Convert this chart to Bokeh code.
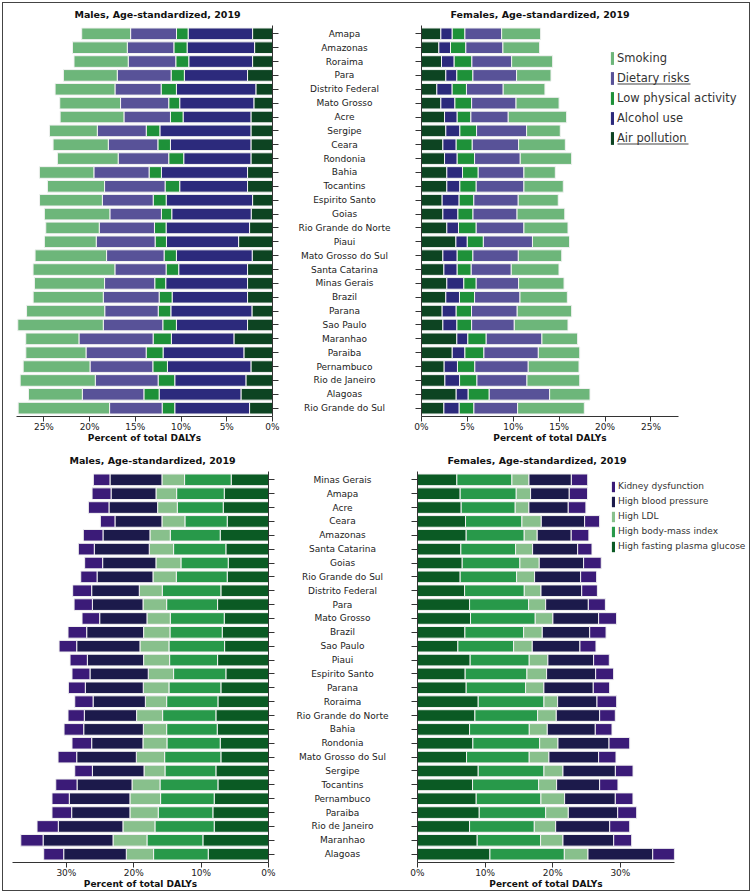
from bokeh.plotting import figure
from bokeh.models import (ColumnDataSource, FactorRange, Range1d, Legend, LegendItem,
                          SingleIntervalTicker, PrintfTickFormatter, BoxAnnotation,
                          CustomLabelingPolicy)
from bokeh.layouts import row, column
from bokeh.embed import file_html
from bokeh.resources import INLINE
from bokeh.core.properties import value

FONT = "DejaVu Sans"

# ---------------- data: top (behavioural / environmental risks) ----------------
states_top = ["Amapa", "Amazonas", "Roraima", "Para", "Distrito Federal", "Mato Grosso", "Acre",
              "Sergipe", "Ceara", "Rondonia", "Bahia", "Tocantins", "Espirito Santo", "Goias",
              "Rio Grande do Norte", "Piaui", "Mato Grosso do Sul", "Santa Catarina", "Minas Gerais",
              "Brazil", "Parana", "Sao Paulo", "Maranhao", "Paraiba", "Pernambuco", "Rio de Janeiro",
              "Alagoas", "Rio Grande do Sul"]
top_risks = ["Air pollution", "Alcohol use", "Low physical activity", "Dietary risks", "Smoking"]

m_air = [2.18, 1.96, 2.18, 2.73, 1.82, 2.04, 2.36, 2.36, 2.36, 2.36, 2.73, 2.73, 2.18, 2.33,
         2.51, 3.71, 2.22, 2.73, 2.73, 2.73, 2.25, 2.73, 4.22, 3.13, 2.36, 2.91, 3.45, 2.51]
m_alc = [7.05, 7.38, 6.98, 6.91, 8.69, 8.11, 7.42, 9.96, 8.80, 7.35, 9.42, 7.42, 9.45, 8.69,
         9.13, 7.89, 8.29, 7.53, 8.95, 8.25, 8.87, 7.78, 6.84, 8.84, 9.13, 7.78, 8.95, 8.18]
m_lpa = [1.27, 1.45, 1.42, 1.45, 1.67, 1.20, 1.38, 1.49, 1.38, 1.64, 1.35, 1.60, 1.42, 1.13,
         1.27, 1.24, 1.35, 1.38, 1.20, 1.42, 1.38, 1.49, 2.00, 1.85, 1.60, 1.82, 1.67, 1.38]
m_diet = [5.02, 5.09, 5.20, 5.89, 5.05, 5.27, 5.09, 5.35, 5.42, 5.53, 6.04, 6.62, 5.56, 5.64,
          6.04, 6.44, 6.29, 5.60, 5.49, 6.11, 5.85, 6.51, 8.11, 6.58, 6.87, 6.87, 6.73, 5.75]
m_smk = [5.35, 6.00, 5.93, 5.89, 6.55, 6.65, 6.98, 5.24, 6.04, 6.65, 5.96, 6.25, 6.87, 7.16,
         5.85, 5.67, 7.82, 8.95, 7.67, 7.67, 8.55, 9.35, 5.82, 6.58, 7.31, 8.22, 5.89, 10.00]

f_air = [2.11, 1.89, 2.18, 2.65, 1.67, 2.11, 2.51, 2.65, 2.33, 2.51, 2.76, 2.76, 2.25, 2.33,
         2.76, 3.75, 2.33, 2.44, 2.76, 2.65, 2.25, 2.33, 3.85, 3.35, 2.47, 2.55, 3.78, 2.44]
f_alc = [1.24, 1.27, 1.38, 1.20, 1.67, 1.53, 1.38, 1.53, 1.45, 1.38, 1.71, 1.42, 1.85, 1.64,
         1.27, 1.24, 1.56, 1.45, 1.85, 1.49, 1.53, 1.53, 1.20, 1.38, 1.45, 1.60, 1.31, 1.67]
f_lpa = [1.38, 1.67, 1.93, 1.75, 1.56, 1.82, 1.49, 1.82, 1.75, 1.89, 1.71, 1.78, 1.60, 1.64,
         1.93, 1.75, 1.71, 1.53, 1.35, 1.64, 1.67, 1.60, 2.00, 2.07, 1.89, 1.89, 2.29, 1.60]
f_diet = [4.00, 4.04, 4.33, 4.76, 4.00, 4.84, 4.07, 5.45, 5.05, 4.98, 4.98, 5.20, 4.84, 4.80,
          5.20, 5.35, 4.95, 4.36, 4.62, 4.95, 4.98, 4.65, 6.07, 5.93, 5.82, 5.45, 6.58, 4.76]
f_smk = [4.25, 4.00, 4.47, 3.75, 4.55, 4.69, 6.36, 3.67, 5.09, 5.60, 3.42, 4.29, 4.36, 5.20,
         4.80, 4.04, 4.73, 5.20, 4.95, 5.16, 5.93, 5.85, 3.89, 4.51, 5.53, 5.75, 4.40, 7.27]

# ---------------- data: bottom (metabolic risks) ----------------
states_bot = ["Minas Gerais", "Amapa", "Acre", "Ceara", "Amazonas", "Santa Catarina", "Goias",
              "Rio Grande do Sul", "Distrito Federal", "Para", "Mato Grosso", "Brazil", "Sao Paulo",
              "Piaui", "Espirito Santo", "Parana", "Roraima", "Rio Grande do Norte", "Bahia",
              "Rondonia", "Mato Grosso do Sul", "Sergipe", "Tocantins", "Pernambuco", "Paraiba",
              "Rio de Janeiro", "Maranhao", "Alagoas"]
bot_risks = ["High fasting plasma glucose", "High body-mass index", "High LDL",
             "High blood pressure", "Kidney dysfunction"]

mb_fpg = [5.54, 6.57, 6.72, 6.13, 7.17, 6.33, 5.98, 6.13, 7.07, 7.56, 6.57, 6.87, 6.52, 7.56,
          6.33, 7.07, 7.51, 7.81, 7.61, 7.17, 7.07, 7.81, 7.51, 8.06, 8.26, 8.06, 9.74, 8.95]
mb_bmi = [6.92, 7.07, 6.82, 6.28, 7.41, 7.76, 7.02, 7.56, 8.70, 7.56, 8.01, 7.76, 8.26, 7.12,
          7.76, 7.71, 7.61, 7.91, 7.51, 7.91, 8.35, 7.56, 8.60, 7.96, 8.11, 8.80, 8.30, 8.11]
mb_ldl = [3.36, 3.06, 2.92, 3.41, 3.02, 3.61, 3.71, 3.46, 3.41, 3.51, 3.46, 3.91, 4.30, 3.86,
          3.76, 3.81, 3.16, 3.86, 3.46, 3.56, 4.20, 3.11, 4.15, 4.55, 4.20, 4.75, 5.04, 4.05]
mb_bp = [7.71, 6.67, 7.22, 6.97, 6.97, 8.16, 7.91, 8.30, 7.07, 7.51, 7.02, 8.45, 9.39, 8.35,
         8.65, 8.60, 7.76, 7.76, 8.85, 7.61, 8.85, 7.66, 8.16, 9.00, 8.65, 9.59, 10.38, 9.29]
mb_kid = [2.47, 2.82, 3.06, 2.17, 2.92, 2.37, 2.67, 2.42, 2.82, 2.72, 2.62, 2.77, 2.62, 2.57,
          2.67, 2.52, 2.72, 2.42, 2.92, 2.92, 2.77, 2.62, 3.16, 2.57, 2.92, 3.16, 3.31, 2.97]

fb_fpg = [5.82, 6.31, 6.46, 7.10, 7.20, 6.41, 6.61, 6.31, 6.96, 7.70, 7.84, 7.01, 5.97, 7.79,
          7.05, 7.20, 8.98, 8.49, 7.70, 8.19, 7.25, 8.98, 8.14, 8.68, 9.13, 7.70, 8.83, 10.71]
fb_bmi = [8.14, 8.29, 7.99, 8.34, 8.58, 8.09, 8.53, 8.34, 8.83, 8.73, 9.57, 8.68, 8.24, 8.73,
          9.13, 8.78, 9.72, 9.27, 8.83, 9.87, 9.27, 9.72, 9.77, 9.57, 9.82, 9.57, 9.37, 11.00]
fb_ldl = [2.52, 2.12, 2.02, 2.86, 1.92, 2.52, 2.86, 2.66, 2.47, 2.52, 2.61, 2.76, 2.76, 2.76,
          2.91, 2.71, 2.02, 2.76, 2.66, 2.71, 2.91, 2.81, 2.66, 3.50, 3.35, 3.16, 3.31, 3.50]
fb_bp = [6.27, 5.72, 5.82, 6.41, 5.03, 6.66, 6.56, 6.81, 6.02, 6.31, 6.76, 7.01, 7.05, 6.76,
         7.25, 7.30, 5.82, 6.41, 7.10, 7.55, 7.35, 7.75, 6.36, 7.50, 7.30, 7.99, 7.50, 9.57]
fb_kid = [2.42, 2.71, 2.61, 2.22, 2.61, 2.12, 2.61, 2.37, 2.32, 2.52, 2.66, 2.42, 2.37, 2.32,
          2.66, 2.42, 2.91, 2.32, 2.47, 3.06, 2.57, 2.61, 2.71, 2.61, 2.81, 2.96, 2.66, 3.21]

top_ticks = 5
bot_ticks = 10
top_max = 28
bot_max = 38

top_colors = ["#0d4422", "#2c2a7c", "#1e9139", "#585298", "#6db67a"]
bot_colors = ["#0b5a24", "#28994a", "#88c08c", "#1c1a4b", "#3b1b78"]

AX = "#333333"
FRAME_H = 391


def clean(p):
    p.xgrid.grid_line_color = None
    p.ygrid.grid_line_color = None
    p.outline_line_color = None
    p.background_fill_color = None
    p.border_fill_color = None


def style_xaxis(p, interval):
    ax = p.xaxis[0]
    ax.ticker = SingleIntervalTicker(interval=interval)
    ax.formatter = PrintfTickFormatter(format="%d%%")
    ax.axis_label = "Percent of total DALYs"
    ax.axis_label_text_font = FONT
    ax.axis_label_text_font_style = "bold"
    ax.axis_label_text_font_size = "9px"
    ax.axis_label_standoff = -2
    ax.axis_label_text_color = "#111111"
    ax.major_label_text_font = FONT
    ax.major_label_text_font_size = "9px"
    ax.major_label_text_color = "#222222"
    ax.major_label_standoff = 0
    ax.major_tick_out = 5
    ax.major_tick_in = 0
    ax.minor_tick_line_color = None
    ax.axis_line_color = AX
    ax.major_tick_line_color = AX


def style_yaxis(p):
    ax = p.yaxis[0]
    ax.major_label_policy = CustomLabelingPolicy(code="return []")
    ax.major_label_text_font_size = "1px"
    ax.major_label_standoff = 0
    ax.major_tick_out = 6
    ax.major_tick_in = 0
    ax.axis_line_color = AX
    ax.major_tick_line_color = AX
    ax.minor_tick_line_color = None


def bar_panel(yr, states, series, keys, colors, flip, xmax, interval, width, height,
              mbl, mbr, mbt, mbb, title, t_off, t_stand):
    data = {"state": states}
    for k, s in zip(keys, series):
        data[k] = s
    src = ColumnDataSource(data)
    xr = Range1d(xmax, 0) if flip else Range1d(0, xmax)
    p = figure(width=width, height=height, y_range=yr, x_range=xr, output_backend="svg",
               toolbar_location=None, y_axis_location="right" if flip else "left",
               min_border_left=mbl, min_border_right=mbr, min_border_top=mbt, min_border_bottom=mbb)
    p.hbar_stack(keys, y="state", height=0.84, color=colors, line_color="#f2f2f2",
                 line_width=1, source=src)
    clean(p)
    style_xaxis(p, interval)
    style_yaxis(p)
    p.title.text = title
    p.title.align = "left"
    p.title.offset = t_off
    p.title.standoff = t_stand
    p.title.vertical_align = "bottom"
    p.title.text_font = FONT
    p.title.text_font_style = "bold"
    p.title.text_font_size = "9.5px"
    p.title.text_color = "#111111"
    return p


def mid_panel(yr, states, width, height, mbt, mbb):
    p = figure(width=width, height=height, y_range=yr, x_range=Range1d(0, 1), output_backend="svg",
               toolbar_location=None, y_axis_location=None, x_axis_location=None,
               min_border_left=0, min_border_right=0, min_border_top=mbt, min_border_bottom=mbb)
    src = ColumnDataSource({"state": states})
    p.text(x=0.5, y="state", text="state", source=src, text_font=value(FONT),
           text_font_size="9px", text_align="center", text_baseline="middle", text_color="#222222")
    clean(p)
    return p


def legend_panel(labels, colors, width, height, shift, mbt, mbb, gw, gh, spacing, fsize,
                 vx, vy, underlines):
    p = figure(width=width, height=height, x_range=Range1d(0, 1), y_range=Range1d(0, 1),
               output_backend="svg", toolbar_location=None, x_axis_location=None,
               y_axis_location=None, min_border_left=0, min_border_right=0,
               min_border_top=mbt, min_border_bottom=mbb,
               styles={"margin-left": "-%dpx" % shift})
    clean(p)
    items = []
    for lab, col in zip(labels, colors):
        # zero-size proxy glyph, only used to draw the legend swatch
        r = p.hbar(y=[0], left=[0], right=[0], height=0, color=col, line_color=None)
        items.append(LegendItem(label=lab, renderers=[r]))
    items = items[::-1]
    lg = Legend(items=items, location=(vx, vy), padding=0, margin=0, border_line_color=None,
                background_fill_alpha=0, glyph_width=gw, glyph_height=gh, label_height=gh,
                spacing=spacing, label_standoff=3, label_text_font=FONT,
                label_text_font_size=fsize, label_text_color="#333333")
    p.add_layout(lg, "center")
    for (x0, x1, yc) in underlines:
        p.add_layout(BoxAnnotation(left=x0, right=x1, bottom=yc - 0.5, top=yc + 0.5,
                                   left_units="screen", right_units="screen",
                                   bottom_units="screen", top_units="screen",
                                   fill_color="#444444", fill_alpha=1, line_color=None))
    return p


LEG_W = 146

# ---------------- top row (frame y: 25..416) ----------------
H1 = 25 + FRAME_H + 30
yr_top = FactorRange(factors=list(reversed(states_top)), range_padding=0.1,
                     range_padding_units="absolute")
tl = bar_panel(yr_top, states_top, [m_air, m_alc, m_lpa, m_diet, m_smk], top_risks, top_colors,
               True, top_max, top_ticks, 291, H1, 16, 19, 25, 30,
               "Males, Age-standardized, 2019", 58, 11)
tm = mid_panel(yr_top, states_top, 106, H1, 25, 30)
tr = bar_panel(yr_top, states_top, [f_air, f_alc, f_lpa, f_diet, f_smk], top_risks,
               top_colors, False, top_max, top_ticks, 355, H1, 24, 74, 25, 30,
               "Females, Age-standardized, 2019", 29, 11)
tleg = legend_panel(top_risks, top_colors, LEG_W, H1, LEG_W, 25, 30, 4, 16, 4, "11.5px",
                    4, 416 - 146, [(11, 84, 416 - 83.5), (11, 82, 416 - 143.5)])

# ---------------- bottom row (frame y: 471..862) ----------------
H2 = 25 + FRAME_H + 31
yr_bot = FactorRange(factors=list(reversed(states_bot)), range_padding=0.1,
                     range_padding_units="absolute")
bl = bar_panel(yr_bot, states_bot, [mb_fpg, mb_bmi, mb_ldl, mb_bp, mb_kid], bot_risks,
               bot_colors, True, bot_max, bot_ticks, 287, H2, 12, 19, 25, 31,
               "Males, Age-standardized, 2019", 57, 12)
bm = mid_panel(yr_bot, states_bot, 110, H2, 25, 31)
br = bar_panel(yr_bot, states_bot, [fb_fpg, fb_bmi, fb_ldl, fb_bp, fb_kid], bot_risks,
               bot_colors, False, bot_max, bot_ticks, 355, H2, 20, 78, 25, 31,
               "Females, Age-standardized, 2019", 30, 12)
bleg = legend_panel(bot_risks, bot_colors, LEG_W, H2, LEG_W, 25, 31, 4, 13, 2, "9px",
                    5, 862 - 552.5, [])

layout = column(row(tl, tm, tr, tleg), row(bl, bm, br, bleg),
                styles={"outline": "1px solid #444444", "outline-offset": "-3px"})

open("out.html", "w").write(file_html(layout, INLINE))
